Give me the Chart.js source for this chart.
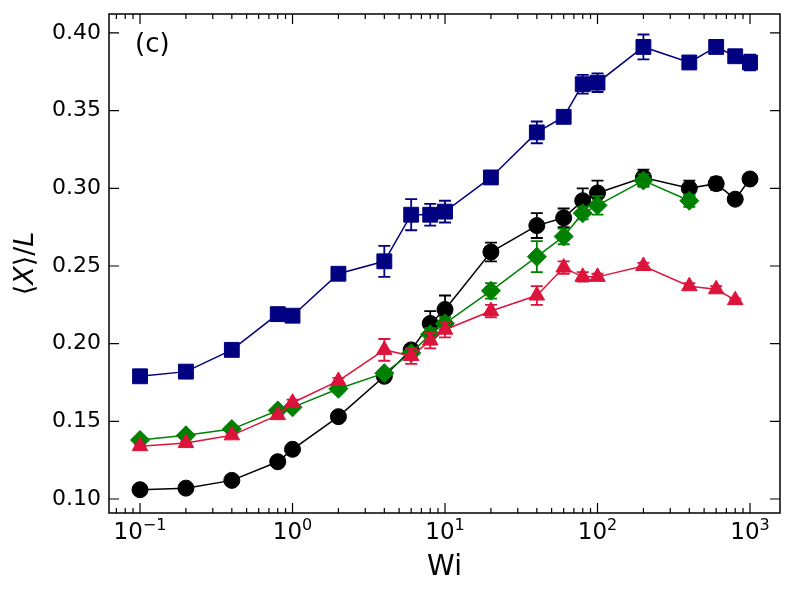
<!DOCTYPE html>
<html>
<head>
<meta charset="utf-8">
<script src="https://cdn.jsdelivr.net/npm/chart.js@4/dist/chart.umd.min.js"></script>
<style>
    html, body { margin: 0; padding: 0; background: #fff; }
    #wrap { width: 794px; height: 593px; }
</style>
</head>
<body>
<div id="wrap"><canvas id="chart"></canvas></div>
<script>
Chart.defaults.font.family = "'DejaVu Sans', sans-serif";
Chart.defaults.color = '#000';

// Wi values
const WI = [0.1, 0.2, 0.4, 0.8, 1, 2, 4, 6, 8, 10, 20, 40, 60, 80, 100, 200, 400, 600, 800, 1000];

// series values and error bars
const NAVY_Y = [0.179, 0.182, 0.196, 0.219, 0.218, 0.245, 0.253, 0.283, 0.283, 0.285, 0.307, 0.336, 0.346, 0.367, 0.368, 0.391, 0.381, 0.391, 0.385, 0.381];
const NAVY_ERR = [0.002, 0.002, 0.002, 0.004, 0.002, 0.002, 0.010, 0.010, 0.007, 0.007, 0.004, 0.007, 0.004, 0.006, 0.006, 0.008, 0.002, 0.003, 0.002, 0.005];

const BLACK_Y = [0.106, 0.107, 0.112, 0.124, 0.132, 0.153, 0.179, 0.196, 0.213, 0.222, 0.259, 0.276, 0.281, 0.292, 0.297, 0.307, 0.300, 0.303, 0.293, 0.306];
const BLACK_ERR = [0.001, 0.001, 0.001, 0.002, 0.002, 0.002, 0.002, 0.002, 0.008, 0.009, 0.006, 0.008, 0.006, 0.008, 0.008, 0.005, 0.005, 0.004, 0.002, 0.002];

const GREEN_WI = [0.1, 0.2, 0.4, 0.8, 1, 2, 4, 6, 8, 10, 20, 40, 60, 80, 100, 200, 400];
const GREEN_Y = [0.138, 0.141, 0.145, 0.157, 0.159, 0.171, 0.181, 0.194, 0.206, 0.213, 0.234, 0.256, 0.269, 0.284, 0.289, 0.305, 0.292];
const GREEN_ERR = [0.001, 0.001, 0.001, 0.001, 0.001, 0.002, 0.002, 0.002, 0.004, 0.004, 0.005, 0.010, 0.005, 0.004, 0.006, 0.004, 0.004];

const RED_WI = [0.1, 0.2, 0.4, 0.8, 1, 2, 4, 6, 8, 10, 20, 40, 60, 80, 100, 200, 400, 600, 800];
const RED_Y = [0.134, 0.136, 0.141, 0.154, 0.162, 0.176, 0.196, 0.192, 0.202, 0.209, 0.221, 0.231, 0.249, 0.243, 0.243, 0.250, 0.237, 0.235, 0.228];
const RED_ERR = [0.001, 0.001, 0.001, 0.001, 0.002, 0.002, 0.007, 0.005, 0.005, 0.005, 0.004, 0.006, 0.004, 0.003, 0.002, 0.002, 0.002, 0.002, 0.001];

// tick labels: base and exponent
const X_MAJOR = [0.1, 1, 10, 100, 1000];
const X_EXP = ['\u22121', '0', '1', '2', '3'];
const Y_TICKS = [0.10, 0.15, 0.20, 0.25, 0.30, 0.35, 0.40];

const X_MIN = 0.0626, X_MAX = 1573;
const Y_MIN = 0.091, Y_MAX = 0.4122;

function points(xs, ys) {
    return xs.map((x, i) => ({ x: x, y: ys[i] }));
}

function series(label, xs, ys, errs, color, style, radius, order) {
    return {
        label: label,
        data: points(xs, ys),
        errors: errs,
        showLine: true,
        borderColor: color,
        backgroundColor: color,
        borderWidth: 1.5,
        pointStyle: style,
        pointRadius: radius,
        pointBorderWidth: 1,
        order: order,
    };
}

// error bars drawn under each dataset's markers
const errorBars = {
    id: 'errorBars',
    beforeDatasetDraw(chart, args) {
        const ds = chart.data.datasets[args.index];
        if (!ds.errors) return;
        const xs = chart.scales.x, ys = chart.scales.y;
        const ctx = chart.ctx;
        ctx.save();
        ctx.strokeStyle = ds.borderColor;
        ctx.lineWidth = 1.8;
        ds.data.forEach((p, i) => {
            const e = ds.errors[i];
            const px = xs.getPixelForValue(p.x);
            const top = ys.getPixelForValue(p.y + e);
            const bot = ys.getPixelForValue(p.y - e);
            ctx.beginPath();
            ctx.moveTo(px, top); ctx.lineTo(px, bot);
            ctx.moveTo(px - 6, top); ctx.lineTo(px + 6, top);
            ctx.moveTo(px - 6, bot); ctx.lineTo(px + 6, bot);
            ctx.stroke();
        });
        ctx.restore();
    }
};

// frame, inward ticks on all sides, x labels, panel tag and y title
const frame = {
    id: 'frame',
    afterDraw(chart) {
        const { ctx, chartArea: a, scales } = chart;
        ctx.save();
        ctx.strokeStyle = '#000';
        ctx.lineWidth = 1.5;
        ctx.strokeRect(a.left, a.top, a.right - a.left, a.bottom - a.top);

        ctx.beginPath();
        for (let d = -2; d <= 3; d++) {
            for (let m = 1; m <= 9; m++) {
                const v = m * Math.pow(10, d);
                if (v < X_MIN || v > X_MAX) continue;
                const px = scales.x.getPixelForValue(v);
                const len = m === 1 ? 10 : 5;
                ctx.moveTo(px, a.bottom); ctx.lineTo(px, a.bottom - len);
                ctx.moveTo(px, a.top); ctx.lineTo(px, a.top + len);
            }
        }
        Y_TICKS.forEach(v => {
            const py = scales.y.getPixelForValue(v);
            ctx.moveTo(a.left, py); ctx.lineTo(a.left + 10, py);
            ctx.moveTo(a.right, py); ctx.lineTo(a.right - 10, py);
        });
        ctx.lineWidth = 1.2;
        ctx.stroke();

        ctx.fillStyle = '#000';
        ctx.textBaseline = 'alphabetic';
        X_MAJOR.forEach((v, i) => {
            const px = scales.x.getPixelForValue(v);
            ctx.font = "23px 'DejaVu Sans'";
            const wb = ctx.measureText('10').width;
            ctx.font = "16px 'DejaVu Sans'";
            const we = ctx.measureText(X_EXP[i]).width;
            const x0 = px - (wb + we) / 2;
            ctx.font = "23px 'DejaVu Sans'";
            ctx.fillText('10', x0, a.bottom + 26);
            ctx.font = "16px 'DejaVu Sans'";
            ctx.fillText(X_EXP[i], x0 + wb, a.bottom + 17);
        });

        ctx.font = "26px 'DejaVu Sans'";
        ctx.textBaseline = 'middle';
        ctx.fillText('(c)', 135, 45);

        // y title: <X>/L with italic X and L
        const parts = [['\u27E8', ''], ['X', 'italic '], ['\u27E9/', ''], ['L', 'italic ']];
        ctx.translate(26, (a.top + a.bottom) / 2);
        ctx.rotate(-Math.PI / 2);
        let total = 0;
        parts.forEach(p => { ctx.font = p[1] + "27px 'DejaVu Sans'"; total += ctx.measureText(p[0]).width; });
        let x = -total / 2;
        parts.forEach(p => {
            ctx.font = p[1] + "27px 'DejaVu Sans'";
            ctx.fillText(p[0], x, 0);
            x += ctx.measureText(p[0]).width;
        });
        ctx.restore();
    }
};

new Chart(document.getElementById('chart'), {
    type: 'scatter',
    data: {
        datasets: [
            series('navy', WI, NAVY_Y, NAVY_ERR, '#000080', 'rect', 10.5, 4),
            series('black', WI, BLACK_Y, BLACK_ERR, '#000000', 'circle', 8, 3),
            series('green', GREEN_WI, GREEN_Y, GREEN_ERR, '#008000', 'rectRot', 9.5, 2),
            series('red', RED_WI, RED_Y, RED_ERR, '#dc143c', 'triangle', 9, 1),
        ]
    },
    options: {
        responsive: true,
        maintainAspectRatio: false,
        animation: false,
        layout: { padding: { top: 14, right: 14, left: 0, bottom: 0 } },
        plugins: {
            legend: { display: false },
            tooltip: { enabled: false },
        },
        scales: {
            x: {
                type: 'logarithmic',
                min: X_MIN,
                max: X_MAX,
                afterBuildTicks: scale => { scale.ticks = X_MAJOR.map(v => ({ value: v })); },
                afterFit: scale => {
                    scale.height = 80;
                    scale.paddingLeft = 0;
                    scale.paddingRight = 0;
                },
                grid: { display: false, drawTicks: false },
                border: { display: false },
                ticks: {
                    autoSkip: false,
                    maxRotation: 0,
                    font: { size: 22 },
                    callback: () => '',
                },
                title: {
                    display: true,
                    text: 'Wi',
                    font: { size: 28 },
                    padding: { top: 0, bottom: 8 },
                },
            },
            y: {
                min: Y_MIN,
                max: Y_MAX,
                afterBuildTicks: scale => { scale.ticks = Y_TICKS.map(v => ({ value: v })); },
                afterFit: scale => {
                    scale.width = 109;
                    scale.paddingTop = 0;
                    scale.paddingBottom = 0;
                },
                grid: { display: false, drawTicks: false },
                border: { display: false },
                ticks: {
                    padding: 8,
                    font: { size: 22 },
                    callback: (v) => Number(v).toFixed(2),
                },
            },
        },
    },
    plugins: [errorBars, frame],
});
</script>
</body>
</html>
